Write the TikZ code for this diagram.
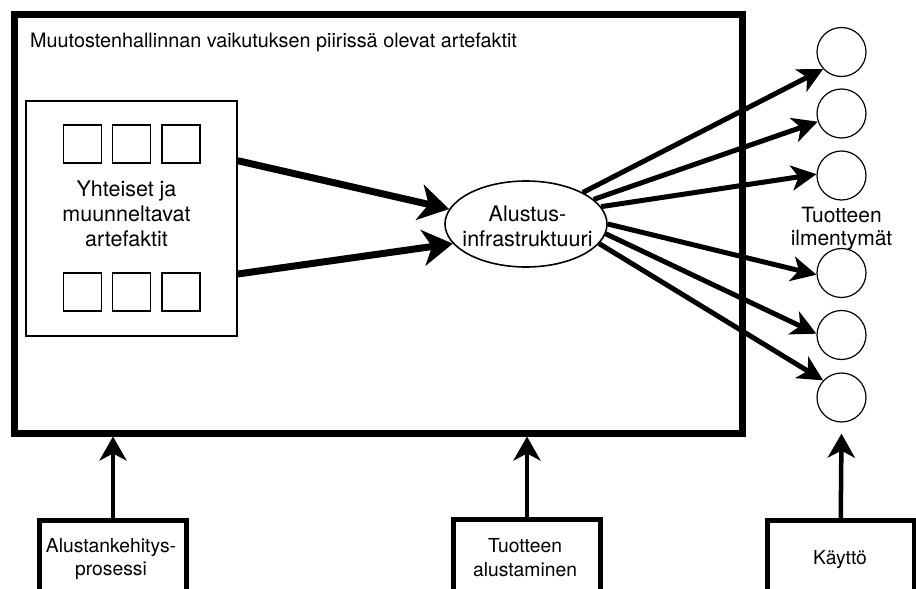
\documentclass[tikz,border=0pt]{standalone}
\usepackage{fontspec}
\setmainfont{TeX Gyre Heros}
\usetikzlibrary{arrows.meta,shapes.geometric,calc}
\begin{document}
\begin{tikzpicture}[x=1pt,y=-1pt,
  mainbox/.style={draw,line width=7pt,minimum width=727.5pt,minimum height=418.5pt,inner sep=0pt},
  innerbox/.style={draw,line width=1.5pt,minimum width=211pt,minimum height=235pt,inner sep=0pt},
  sq/.style={draw,line width=1.7pt,minimum size=38pt,inner sep=0pt},
  inst/.style={draw,circle,line width=1.2pt,minimum size=49pt,inner sep=0pt},
  ellbox/.style={draw,ellipse,line width=1.6pt,minimum width=162pt,minimum height=86pt,inner sep=0pt},
  procbox/.style={draw,line width=5pt,minimum width=147pt,minimum height=140pt,inner sep=0pt},
  txt/.style={inner sep=0pt,align=center},
  larrow/.style={line width=7pt,-{Stealth[length=30pt,width=36pt,inset=9pt]}},
  rarrow/.style={line width=5pt,-{Stealth[length=25pt,width=25pt,inset=7pt]}},
  uarrow/.style={line width=4.5pt,-{Stealth[length=24pt,width=27pt,inset=7pt]}}
]
\useasboundingbox (0,0) rectangle (916,589);
\clip (0,0) rectangle (916,589);
\fill[white] (0,0) rectangle (916,589);

% main frame
\node[mainbox] (main) at (378.25,223.75) {};
\node[txt,anchor=base west,font=\fontsize{19.8}{23}\selectfont] (title) at (30,47)
  {Muutostenhallinnan vaikutuksen piirissä olevat artefaktit};

% inner box with squares
\node[innerbox] (inner) at (131.5,218.5) {};
\node[sq] (s1) at (82.5,144) {};
\node[sq] (s2) at (131.5,144) {};
\node[sq] (s3) at (181,144) {};
\node[sq] (s4) at (82.5,292) {};
\node[sq] (s5) at (131.5,292) {};
\node[sq] (s6) at (181,292) {};
\node[txt,anchor=base,font=\fontsize{21.5}{25.3}\selectfont] (innertxt) at (126.5,246.7)
  {Yhteiset ja\\muunneltavat\\artefaktit};

% ellipse
\node[ellbox] (ell) at (526,224) {};
\node[txt,anchor=base,font=\fontsize{21.5}{25}\selectfont] (elltxt) at (527.5,246.5)
  {Alustus-\\infrastruktuuri};

% product instances
\node[inst] (c1) at (841.5,52) {};
\node[inst] (c2) at (841.5,113.5) {};
\node[inst] (c3) at (841.5,175.5) {};
\node[inst] (c4) at (841.5,273) {};
\node[inst] (c5) at (841.5,335) {};
\node[inst] (c6) at (841.5,397.5) {};
\node[txt,anchor=base,font=\fontsize{21}{23}\selectfont] (insttxt) at (841.5,245)
  {Tuotteen\\ilmentymät};

% bottom process boxes
\node[procbox] (b1) at (113,590.5) {};
\node[procbox] (b2) at (527,589.5) {};
\node[procbox,minimum width=146.5pt] (b3) at (840.75,590.5) {};
\node[txt,anchor=base,font=\fontsize{19.3}{23}\selectfont] (b1txt) at (111,575)
  {Alustankehitys-\\prosessi};
\node[txt,anchor=base,font=\fontsize{19.3}{24}\selectfont] (b2txt) at (525,576)
  {Tuotteen\\alustaminen};
\node[txt,anchor=base,font=\fontsize{19.3}{23}\selectfont] (b3txt) at (840,564)
  {Käyttö};

% connectors
\draw[larrow] ([yshift=57.8pt]inner.east) -- (ell.169);
\draw[larrow] ([yshift=-55.5pt]inner.east) -- (ell.195);

\draw[rarrow] (ell.29) -- (c1.223);
\draw[rarrow] (ell.20) -- (c2.199);
\draw[rarrow] (ell.13) -- (c3.177);
\draw[rarrow] (ell.0) -- (c4.184);
\draw[rarrow] (ell.-7) -- (c5.177);
\draw[rarrow] (ell.-15) -- (c6.137);

\draw[uarrow] (b1.north) -- (b1.north |- main.south);
\draw[uarrow] (b2.north) -- (b2.north |- main.south);
\draw[uarrow] (b3.north) -- ([yshift=-11pt]c6.south);
\end{tikzpicture}
\end{document}
